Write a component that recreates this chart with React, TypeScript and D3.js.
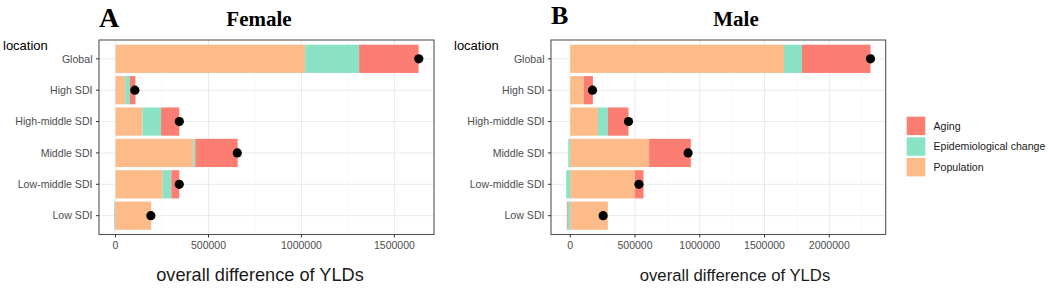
import React from "react";
import * as d3 from "d3";

const locations = ["Global", "High SDI", "High-middle SDI", "Middle SDI", "Low-middle SDI", "Low SDI"];
const factors = ["Population", "Epidemiological change", "Aging"];
const legendOrder = ["Aging", "Epidemiological change", "Population"];

const femalePopulation = [1020000, 52000, 145000, 418000, 254000, 192000];
const femaleEpi = [290000, 25000, 100000, 11000, 46000, -5000];
const femaleAging = [320000, 30000, 98000, 228000, 43000, -2000];
const femaleOverall = [1631000, 104000, 343000, 655000, 343000, 190000];
const femaleTicks = [0, 500000, 1000000, 1500000];
const femaleMinor = [250000, 750000, 1250000];

const malePopulation = [1650000, 106000, 214000, 609000, 499000, 290000];
const maleEpi = [139000, 0, 77000, -15000, -31000, -20000];
const maleAging = [529000, 69000, 159000, 322000, 67000, -6000];
const maleOverall = [2318000, 172000, 450000, 910000, 530000, 254000];
const maleTicks = [0, 500000, 1000000, 1500000, 2000000];
const maleMinor = [250000, 750000, 1250000, 1750000, 2250000];

const colors: Record<string, string> = {
  Aging: "#FC7D72",
  "Epidemiological change": "#8BE3C6",
  Population: "#FDBB8A",
};

const FONT = "'Liberation Sans', Arial, Helvetica, sans-serif";
const SERIF = "'Liberation Serif', 'Times New Roman', serif";

type PanelProps = {
  pop: number[];
  epi: number[];
  aging: number[];
  overall: number[];
  ticks: number[];
  minor: number[];
  x0: number;
  x1: number;
  letter: string;
  letterSize: number;
  letterY: number;
  title: string;
  titleX: number;
  xTitleX: number;
  xTitleSize: number;
  locX: number;
};

function Panel(p: PanelProps) {
  const y0 = 40;
  const y1 = 234.5;
  const rows = locations.map((loc, i) => ({
    location: loc,
    Population: p.pop[i],
    "Epidemiological change": p.epi[i],
    Aging: p.aging[i],
  }));
  const series = d3
    .stack<any>()
    .keys(factors)
    .offset(d3.stackOffsetDiverging)(rows);
  let mn = d3.min(series, (s) => d3.min(s, (d) => d[0])) as number;
  let mx = d3.max(series, (s) => d3.max(s, (d) => d[1])) as number;
  mn = Math.min(mn, d3.min(p.overall) as number);
  mx = Math.max(mx, d3.max(p.overall) as number);
  const pad = (mx - mn) * 0.05;
  const x = d3.scaleLinear().domain([mn - pad, mx + pad]).range([p.x0, p.x1]);
  const y = d3
    .scaleBand<string>()
    .domain(locations)
    .range([y0, y1])
    .paddingInner(0.1)
    .paddingOuter(0.15);
  const bw = y.bandwidth();
  const cy = (l: string) => (y(l) as number) + bw / 2;

  return (
    <g>
      <text x={p.x0} y={p.letterY} fontFamily={SERIF} fontWeight="bold" fontSize={p.letterSize} fill="#000">
        {p.letter}
      </text>
      <text x={p.titleX} y={26} fontFamily={SERIF} fontWeight="bold" fontSize={21} textAnchor="middle" fill="#000">
        {p.title}
      </text>
      <text x={p.locX} y={49.5} fontFamily={FONT} fontSize={13} fill="#000">
        location
      </text>
      <rect x={p.x0} y={y0} width={p.x1 - p.x0} height={y1 - y0} fill="#fff" />
      {p.minor.map((t) => (
        <line key={"m" + t} x1={x(t)} x2={x(t)} y1={y0} y2={y1} stroke="#F4F4F4" strokeWidth={0.6} />
      ))}
      {p.ticks.map((t) => (
        <line key={"g" + t} x1={x(t)} x2={x(t)} y1={y0} y2={y1} stroke="#EAEAEA" strokeWidth={1} />
      ))}
      {locations.map((l) => (
        <line key={"h" + l} x1={p.x0} x2={p.x1} y1={cy(l)} y2={cy(l)} stroke="#EAEAEA" strokeWidth={1} />
      ))}
      {series.map((s) => (
        <g key={s.key}>
          {s.map((d, i) => {
            const a = x(d[0]);
            const b = x(d[1]);
            return (
              <rect
                key={i}
                x={Math.min(a, b)}
                width={Math.abs(b - a)}
                y={y(locations[i]) as number}
                height={bw}
                fill={colors[s.key]}
              />
            );
          })}
        </g>
      ))}
      {p.overall.map((v, i) => (
        <circle key={"c" + i} cx={x(v)} cy={cy(locations[i])} r={4.6} fill="#000" />
      ))}
      <rect x={p.x0} y={y0} width={p.x1 - p.x0} height={y1 - y0} fill="none" stroke="#555" strokeWidth={1.1} />
      {locations.map((l) => (
        <g key={"yl" + l}>
          <line x1={p.x0 - 3} x2={p.x0} y1={cy(l)} y2={cy(l)} stroke="#333" strokeWidth={1} />
          <text x={p.x0 - 6.5} y={cy(l) + 3.8} textAnchor="end" fontFamily={FONT} fontSize={10.6} fill="#4D4D4D">
            {l}
          </text>
        </g>
      ))}
      {p.ticks.map((t) => (
        <g key={"xt" + t}>
          <line x1={x(t)} x2={x(t)} y1={y1} y2={y1 + 3} stroke="#333" strokeWidth={1} />
          <text x={x(t)} y={249} textAnchor="middle" fontFamily={FONT} fontSize={10.5} fill="#4D4D4D">
            {String(t)}
          </text>
        </g>
      ))}
      <text x={p.xTitleX} y={280.5} textAnchor="middle" fontFamily={FONT} fontSize={p.xTitleSize} fill="#1A1A1A">
        overall difference of YLDs
      </text>
    </g>
  );
}

export default function App() {
  return (
    <svg
      width={1049}
      height={291}
      style={{ position: "absolute", left: 0, top: 0, background: "#fff" }}
    >
      <rect x={0} y={0} width={1049} height={291} fill="#fff" />
      <Panel
        pop={femalePopulation}
        epi={femaleEpi}
        aging={femaleAging}
        overall={femaleOverall}
        ticks={femaleTicks}
        minor={femaleMinor}
        x0={99}
        x1={434}
        letter="A"
        letterSize={28}
        letterY={26.7}
        title="Female"
        titleX={259}
        xTitleX={260}
        xTitleSize={18.2}
        locX={3}
      />
      <Panel
        pop={malePopulation}
        epi={maleEpi}
        aging={maleAging}
        overall={maleOverall}
        ticks={maleTicks}
        minor={maleMinor}
        x0={551}
        x1={885.7}
        letter="B"
        letterSize={26}
        letterY={24}
        title="Male"
        titleX={736}
        xTitleX={735}
        xTitleSize={16.7}
        locX={454}
      />
      {legendOrder.map((k, i) => (
        <g key={k}>
          <rect x={906.7} y={116.7 + i * 20.65} width={18.6} height={18.4} fill={colors[k]} />
          <text x={933.5} y={116.7 + i * 20.65 + 9.2 + 3.8} fontFamily={FONT} fontSize={10.6} fill="#1A1A1A">
            {k}
          </text>
        </g>
      ))}
    </svg>
  );
}
